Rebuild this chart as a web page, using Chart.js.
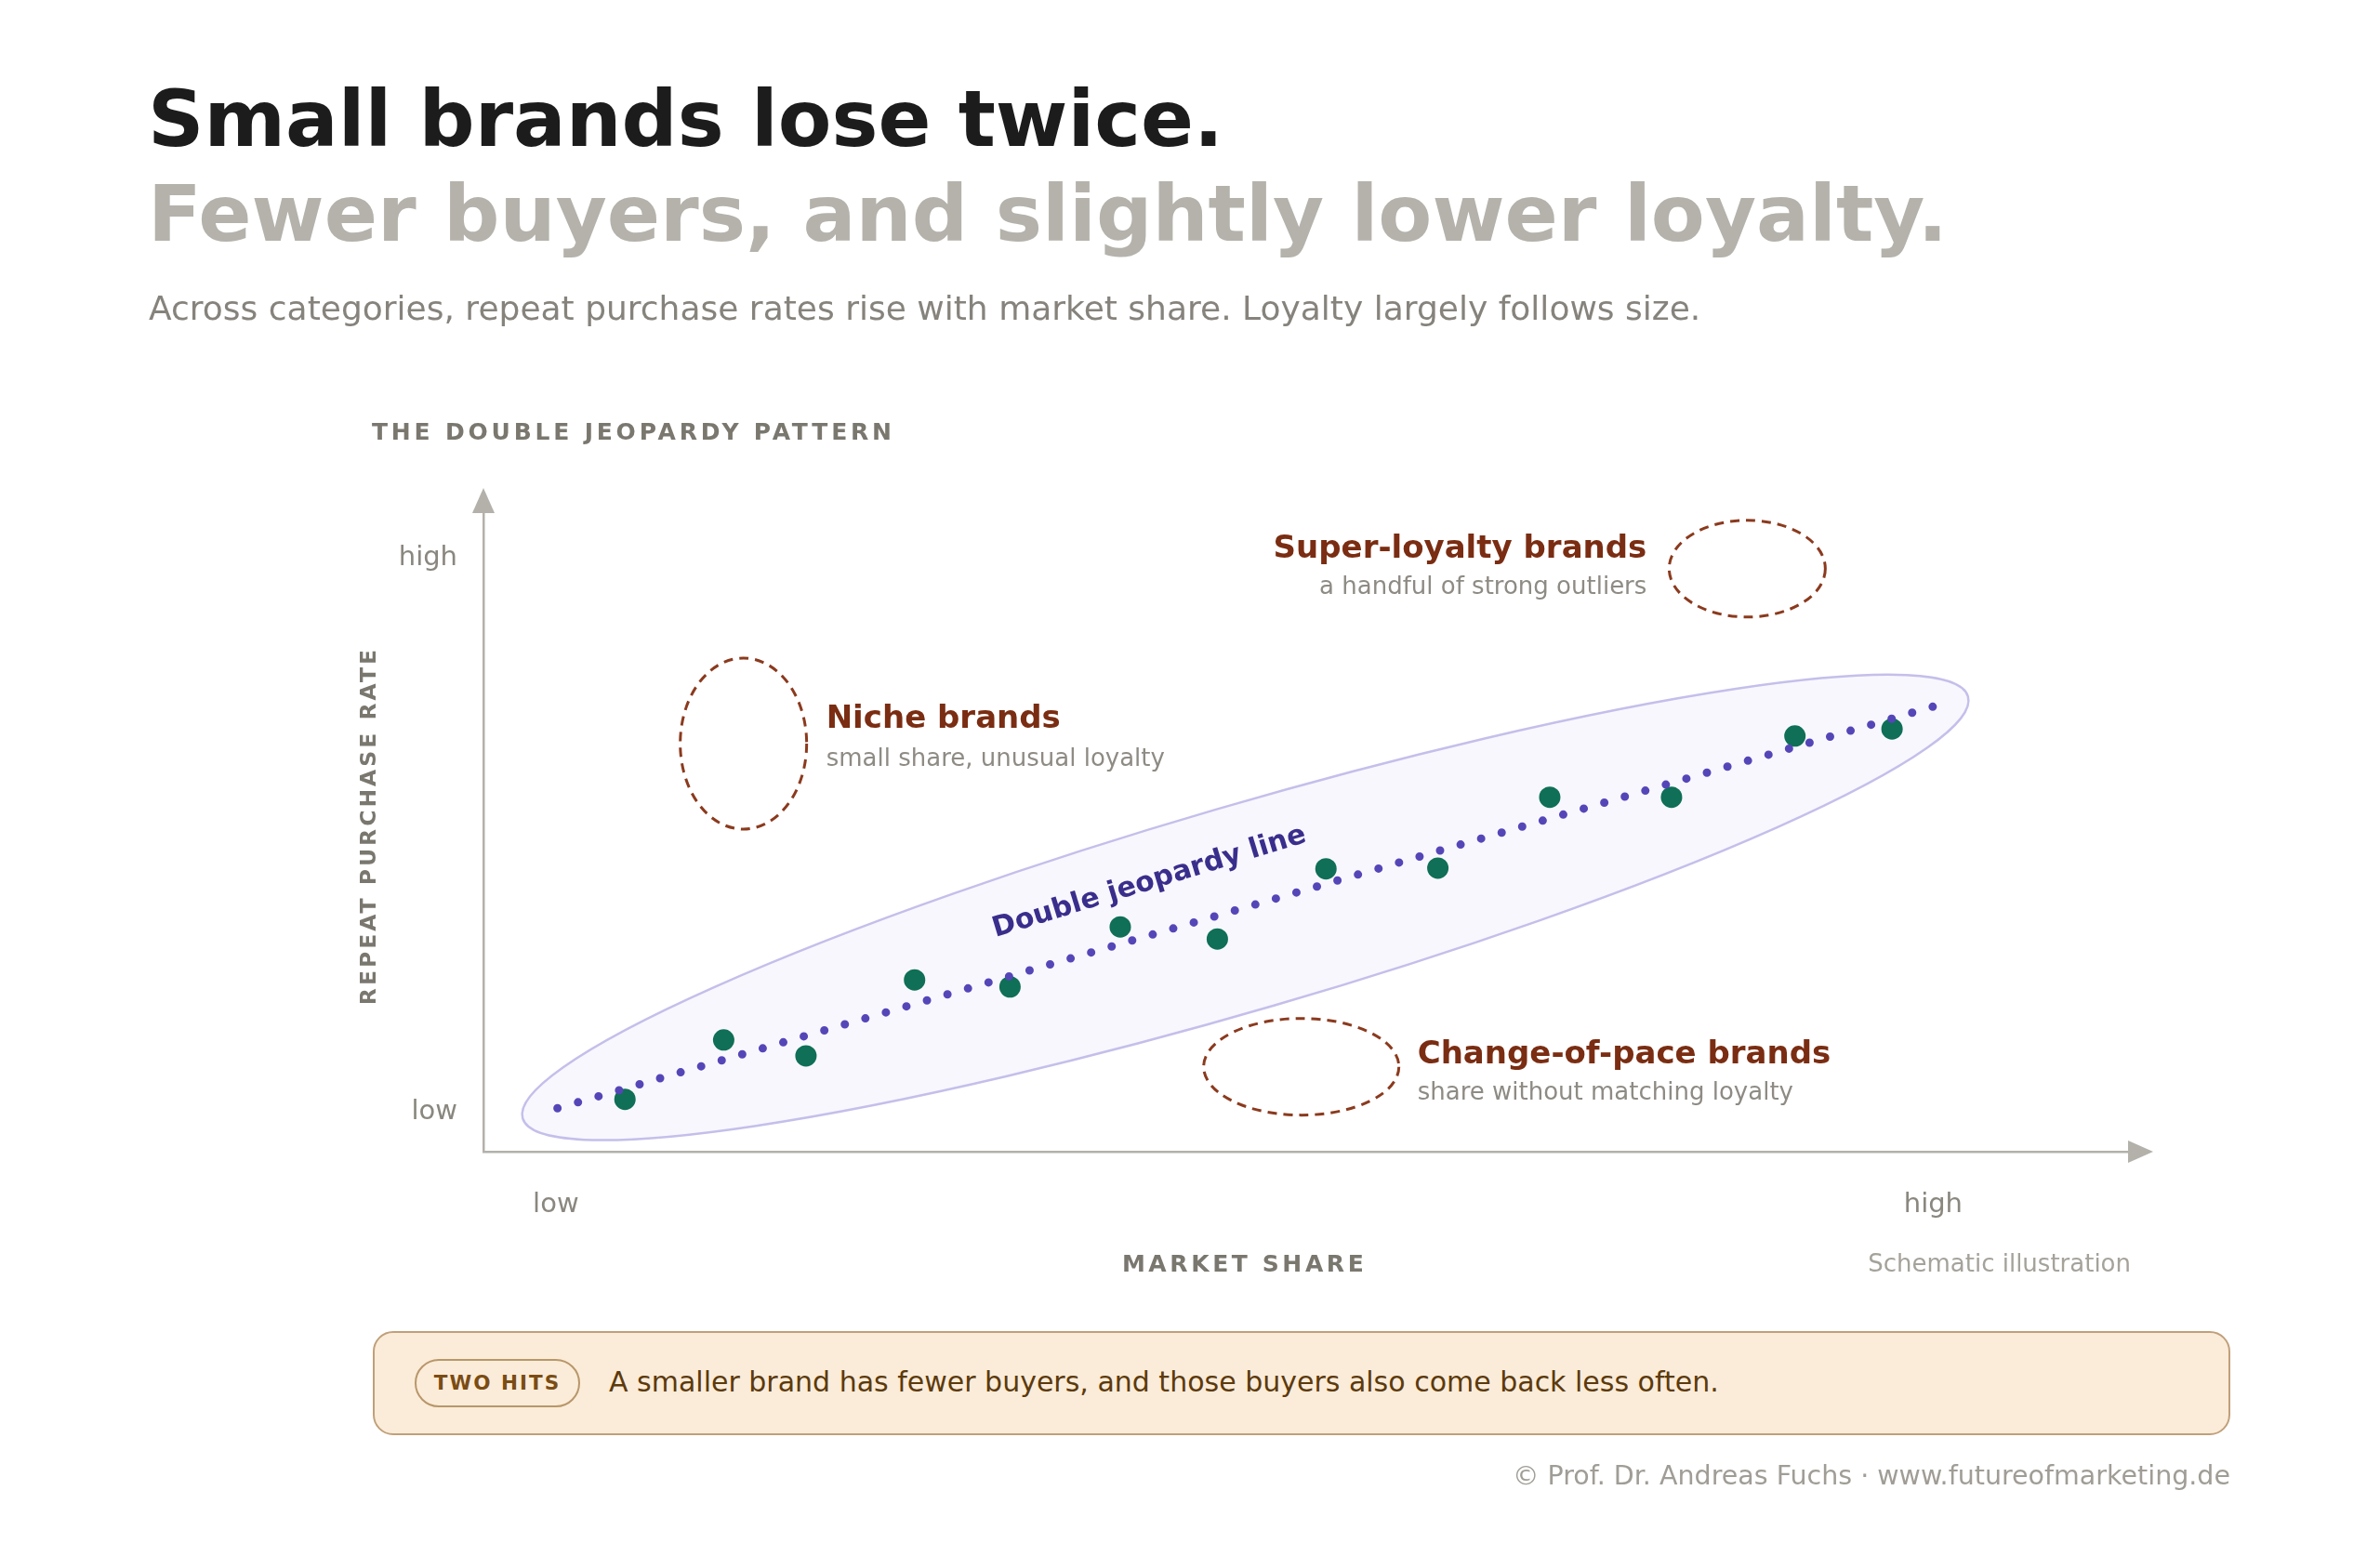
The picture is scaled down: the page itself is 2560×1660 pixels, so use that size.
<!DOCTYPE html>
<html>
<head>
<meta charset="utf-8">
<title>Small brands lose twice</title>
<script src="https://cdn.jsdelivr.net/npm/chart.js@4.4.1/dist/chart.umd.min.js"></script>
<style>
  html, body { margin: 0; padding: 0; background: #fff; }
  body { width: 2560px; height: 1660px; position: relative; overflow: hidden; font-family: "DejaVu Sans", sans-serif; }
  #chart { position: absolute; left: 0; top: 0; }
  .abs { position: absolute; white-space: nowrap; line-height: 1; }
  .title { left: 159px; font-weight: bold; }
  #t1 { top: 86px; font-size: 84px; color: #1c1c1c; }
  #t2 { top: 188px; font-size: 84.5px; color: #b4b2ab; }
  #desc { left: 160px; top: 314px; font-size: 36px; color: #86837c; }
  #kicker { left: 400px; top: 452px; font-size: 25px; font-weight: bold; letter-spacing: 3.8px; color: #7a776f; }
  #banner { left: 401px; top: 1432px; width: 1994px; height: 108px; background: #fbecd9; border: 2px solid #c0a07a; border-radius: 22px; }
  #pill { position: absolute; left: 43px; top: 28px; width: 174px; height: 48px; border: 2px solid #b8976a; border-radius: 26px;
          display: flex; align-items: center; justify-content: center; font-size: 21.5px; font-weight: bold; letter-spacing: 2px; color: #7a4c14; }
  #bannerText { left: 252px; top: 38px; font-size: 30px; color: #5c3a0c; }
  #footer { right: 161px; top: 1574px; font-size: 28.5px; color: #a09d96; }
</style>
</head>
<body>
<canvas id="chart" width="2560" height="1660"></canvas>

<div class="abs title" id="t1">Small brands lose twice.</div>
<div class="abs title" id="t2">Fewer buyers, and slightly lower loyalty.</div>
<div class="abs" id="desc">Across categories, repeat purchase rates rise with market share. Loyalty largely follows size.</div>
<div class="abs" id="kicker">THE DOUBLE JEOPARDY PATTERN</div>

<div class="abs" id="banner">
  <div id="pill">TWO HITS</div>
  <div class="abs" id="bannerText">A smaller brand has fewer buyers, and those buyers also come back less often.</div>
</div>
<div class="abs" id="footer">© Prof. Dr. Andreas Fuchs · www.futureofmarketing.de</div>

<script>
// brands (schematic): market share vs repeat purchase rate, 0-100 index
const SHARE = [8.6, 14.6, 19.6, 26.2, 32.0, 38.7, 44.6, 51.2, 58.0, 64.8, 72.2, 79.7, 85.6];
const REPEAT = [8.2, 17.5, 15.0, 26.9, 25.8, 35.2, 33.3, 44.3, 44.4, 55.5, 55.5, 65.1, 66.2];

// double jeopardy line, start and end
const FIT_X = [4.5, 88.1];
const FIT_Y = [6.8, 69.7];

// axis ticks
const X_TICK_VALUES = [4.4, 88.1];
const X_TICK_LABELS = ["low", "high"];
const Y_TICK_VALUES = [6.2, 92.9];
const Y_TICK_LABELS = ["low", "high"];

// annotations
const NOTE_TITLES = ["Niche brands", "Super-loyalty brands", "Change-of-pace brands"];
const NOTE_TEXTS = ["small share, unusual loyalty", "a handful of strong outliers", "share without matching loyalty"];
const NOTE_X = [15.8, 76.8, 49.7];
const NOTE_Y = [63.9, 91.3, 13.3];

const FONT = '"DejaVu Sans", sans-serif';
const AXIS_GREY = "#b3b1aa";
const LABEL_GREY = "#8a877f";
const NOTE_RED = "#7a2d12";

// layout of the annotation marks (pixels)
const noteLayout = [
  { rx: 68, ry: 92, align: "left", dx: 21, dy1: -17, dy2: 24 },
  { rx: 84, ry: 52, align: "right", dx: -24, dy1: -12, dy2: 27 },
  { rx: 105, ry: 52, align: "left", dx: 20, dy1: -4, dy2: 35 },
];

function spaced(ctx, px) {
  if ("letterSpacing" in ctx) ctx.letterSpacing = px + "px";
}

const decor = {
  id: "decor",
  beforeDatasetsDraw(chart) {
    const { ctx, scales: { x, y } } = chart;
    // envelope around the line
    const x0 = x.getPixelForValue(FIT_X[0]), y0 = y.getPixelForValue(FIT_Y[0]);
    const x1 = x.getPixelForValue(FIT_X[1]), y1 = y.getPixelForValue(FIT_Y[1]);
    const cx = (x0 + x1) / 2, cy = (y0 + y1) / 2;
    const ang = Math.atan2(y1 - y0, x1 - x0);
    const half = Math.hypot(x1 - x0, y1 - y0) / 2;
    ctx.save();
    ctx.beginPath();
    ctx.ellipse(cx, cy, half + 39, 110, ang, 0, Math.PI * 2);
    ctx.fillStyle = "#f8f7fe";
    ctx.fill();
    ctx.lineWidth = 2.5;
    ctx.strokeStyle = "#c4bfea";
    ctx.stroke();

    // dashed outlier groups
    ctx.setLineDash([10, 7]);
    ctx.lineWidth = 3;
    ctx.strokeStyle = "#8b3a1e";
    NOTE_X.forEach((v, i) => {
      const l = noteLayout[i];
      ctx.beginPath();
      ctx.ellipse(x.getPixelForValue(v), y.getPixelForValue(NOTE_Y[i]), l.rx, l.ry, 0, 0, Math.PI * 2);
      ctx.stroke();
    });
    ctx.restore();
  },
  afterDatasetsDraw(chart) {
    const { ctx, chartArea: a, scales: { x, y } } = chart;
    ctx.save();

    // axis arrows
    ctx.fillStyle = AXIS_GREY;
    ctx.beginPath();
    ctx.moveTo(a.left, a.top - 27);
    ctx.lineTo(a.left - 12, a.top);
    ctx.lineTo(a.left + 12, a.top);
    ctx.closePath();
    ctx.fill();
    ctx.beginPath();
    ctx.moveTo(a.right + 26, a.bottom);
    ctx.lineTo(a.right - 1, a.bottom - 12);
    ctx.lineTo(a.right - 1, a.bottom + 12);
    ctx.closePath();
    ctx.fill();

    // annotation labels
    ctx.textBaseline = "alphabetic";
    NOTE_X.forEach((v, i) => {
      const l = noteLayout[i];
      const px = x.getPixelForValue(v), py = y.getPixelForValue(NOTE_Y[i]);
      const tx = l.align === "left" ? px + l.rx + l.dx : px - l.rx + l.dx;
      ctx.textAlign = l.align;
      ctx.font = "bold 34px " + FONT;
      ctx.fillStyle = NOTE_RED;
      ctx.fillText(NOTE_TITLES[i], tx, py + l.dy1);
      ctx.font = "26px " + FONT;
      ctx.fillStyle = "#8e8b84";
      ctx.fillText(NOTE_TEXTS[i], tx, py + l.dy2);
    });

    // line label
    ctx.save();
    ctx.translate(x.getPixelForValue(40.6), y.getPixelForValue(41.1));
    ctx.rotate(-17 * Math.PI / 180);
    ctx.textAlign = "center";
    ctx.font = "bold 30px " + FONT;
    ctx.fillStyle = "#3a2e8c";
    ctx.fillText("Double jeopardy line", 0, 0);
    ctx.restore();

    // axis titles
    ctx.fillStyle = "#7a776f";
    ctx.textAlign = "center";
    ctx.font = "bold 25px " + FONT;
    spaced(ctx, 3.6);
    const midX = x.getPixelForValue((X_TICK_VALUES[0] + X_TICK_VALUES[1]) / 2);
    ctx.fillText("MARKET SHARE", midX, 1368);
    ctx.save();
    ctx.translate(404, y.getPixelForValue((Y_TICK_VALUES[0] + Y_TICK_VALUES[1]) / 2) - 10);
    ctx.rotate(-Math.PI / 2);
    ctx.font = "bold 23.5px " + FONT;
    spaced(ctx, 3);
    ctx.fillText("REPEAT PURCHASE RATE", 0, 0);
    ctx.restore();

    spaced(ctx, 0);
    ctx.textAlign = "right";
    ctx.font = "26px " + FONT;
    ctx.fillStyle = "#a5a29a";
    ctx.fillText("Schematic illustration", a.right + 2, 1368);
    ctx.restore();
  }
};

const brands = SHARE.map((v, i) => ({ x: v, y: REPEAT[i] }));
const fitLine = FIT_X.map((v, i) => ({ x: v, y: FIT_Y[i] }));

new Chart(document.getElementById("chart"), {
  type: "scatter",
  data: {
    datasets: [
      {
        label: "Double jeopardy line",
        type: "line",
        data: fitLine,
        borderColor: "#5546b8",
        borderWidth: 9,
        borderDash: [0, 23],
        borderCapStyle: "round",
        pointRadius: 0,
        fill: false,
        order: 0,
      },
      {
        label: "Brands",
        data: brands,
        backgroundColor: "#0f6f57",
        pointRadius: 11.5,
        pointBorderWidth: 0,
        order: 1,
      },
    ],
  },
  options: {
    responsive: false,
    animation: false,
    events: [],
    layout: { padding: { left: 360, right: 270, top: 552, bottom: 321 } },
    plugins: { legend: { display: false }, tooltip: { enabled: false } },
    scales: {
      x: {
        type: "linear",
        min: 0,
        max: 100,
        grid: { display: false, drawTicks: false },
        border: { display: true, color: AXIS_GREY, width: 2.5 },
        afterBuildTicks: (s) => { s.ticks = X_TICK_VALUES.map((v) => ({ value: v })); },
        afterFit: (s) => { s.height = 100; },
        ticks: {
          autoSkip: false,
          maxRotation: 0,
          padding: 40,
          color: LABEL_GREY,
          font: { family: FONT, size: 29 },
          callback: (v, i) => X_TICK_LABELS[i],
        },
      },
      y: {
        type: "linear",
        min: 0,
        max: 100,
        grid: { display: false, drawTicks: false },
        border: { display: true, color: AXIS_GREY, width: 2.5 },
        afterBuildTicks: (s) => { s.ticks = Y_TICK_VALUES.map((v) => ({ value: v })); },
        afterFit: (s) => { s.width = 160; },
        ticks: {
          autoSkip: false,
          padding: 28,
          color: LABEL_GREY,
          font: { family: FONT, size: 29 },
          callback: (v, i) => Y_TICK_LABELS[i],
        },
      },
    },
  },
  plugins: [decor],
});
</script>
</body>
</html>
